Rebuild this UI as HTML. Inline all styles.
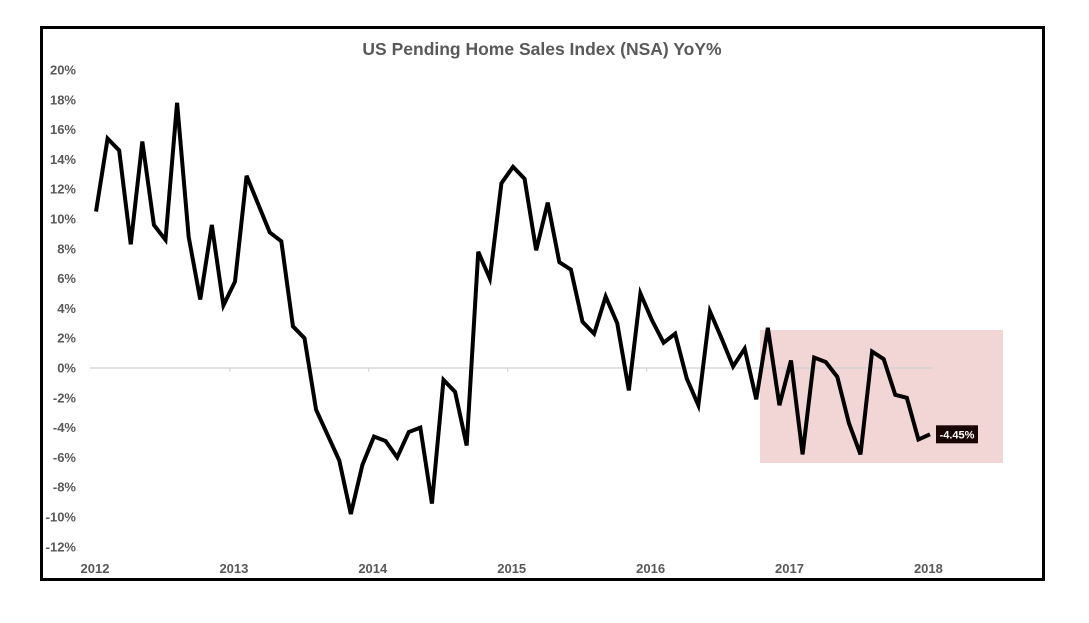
<!DOCTYPE html>
<html><head><meta charset="utf-8"><style>
body{margin:0;background:#fff;width:1089px;height:618px;overflow:hidden;font-family:"Liberation Sans",sans-serif}
svg text{font-family:"Liberation Sans",sans-serif}
</style></head><body>
<svg width="1089" height="618">
<rect x="41.5" y="27.5" width="1002" height="552" fill="#fff" stroke="#000" stroke-width="3"/>
<text x="542" y="55" text-anchor="middle" font-size="17.5" font-weight="bold" fill="#595959">US Pending Home Sales Index (NSA) YoY%</text>
<rect x="760" y="330" width="243" height="133" fill="#f2d6d6"/>
<g id="yaxis"></g><g id="xaxis"></g>
<line x1="90" y1="368" x2="933" y2="368" stroke="#d0d0d0" stroke-width="1.3"/>
<polyline id="line" fill="none" stroke="#000" stroke-width="4" stroke-linejoin="miter"/>
<g id="lbl"></g>
</svg>
<script>
const values=[10.5,15.4,14.6,8.3,15.2,9.6,8.6,17.8,8.8,4.6,9.6,4.2,5.8,12.9,11.0,9.1,8.5,2.8,2.0,-2.8,-4.5,-6.2,-9.8,-6.5,-4.6,-4.9,-6.0,-4.3,-4.0,-9.1,-0.8,-1.6,-5.2,7.8,6.0,
12.4,13.5,12.7,7.9,11.1,7.1,6.6,3.1,2.3,4.8,3.0,-1.5,5.0,3.2,1.7,2.3,-0.7,-2.5,3.8,2.0,0.1,1.3,-2.1,2.7,-2.5,0.5,-5.8,0.7,0.4,-0.6,-3.7,-5.8,1.1,0.6,-1.8,-2.0,-4.8,-4.45];
const yTicks=[20,18,16,14,12,10,8,6,4,2,0,-2,-4,-6,-8,-10,-12];
const xLabels=["2012","2013","2014","2015","2016","2017","2018"];
const lastLabel="-4.45%";
const NS="http://www.w3.org/2000/svg";
function y(v){return 368-v*14.9;}
function x(i){return 96+i*(139/12);}
function xl(i){return 95+i*138.9;}
const ya=document.getElementById('yaxis');
yTicks.forEach(t=>{const e=document.createElementNS(NS,'text');


e.setAttribute('x',76);e.setAttribute('y',y(t)+4.5);e.setAttribute('text-anchor','end');
e.setAttribute('font-size','13');e.setAttribute('font-weight','bold');e.setAttribute('fill','#595959');
e.textContent=t+'%';ya.appendChild(e);});
const xa=document.getElementById('xaxis');
xLabels.forEach((t,i)=>{const e=document.createElementNS(NS,'text');


e.setAttribute('x',xl(i));e.setAttribute('y',573);e.setAttribute('text-anchor','middle');
e.setAttribute('font-size','13');e.setAttribute('font-weight','bold');e.setAttribute('fill','#595959');
e.textContent=t;xa.appendChild(e);
if(i>0&&i<6){const l=document.createElementNS(NS,'line');


l.setAttribute('x1',xl(i)-4);l.setAttribute('x2',xl(i)-4);l.setAttribute('y1',368);l.setAttribute('y2',372);l.setAttribute('stroke','#d0d0d0');xa.appendChild(l);}});
document.getElementById('line').setAttribute('points',values.map((v,i)=>x(i)+','+y(v)).join(' '));
const lg=document.getElementById('lbl');
const lx=x(values.length-1)+27,ly=y(values[values.length-1]);
const r=document.createElementNS(NS,'rect');


r.setAttribute('x',lx-21);r.setAttribute('y',ly-9);r.setAttribute('width',42);r.setAttribute('height',18);r.setAttribute('fill','#1a0505');lg.appendChild(r);
const t=document.createElementNS(NS,'text');


t.setAttribute('x',lx);t.setAttribute('y',ly+4);t.setAttribute('text-anchor','middle');t.setAttribute('font-size','11');t.setAttribute('font-weight','bold');t.setAttribute('fill','#fff');
t.textContent=lastLabel;lg.appendChild(t);
</script>
</body></html>
